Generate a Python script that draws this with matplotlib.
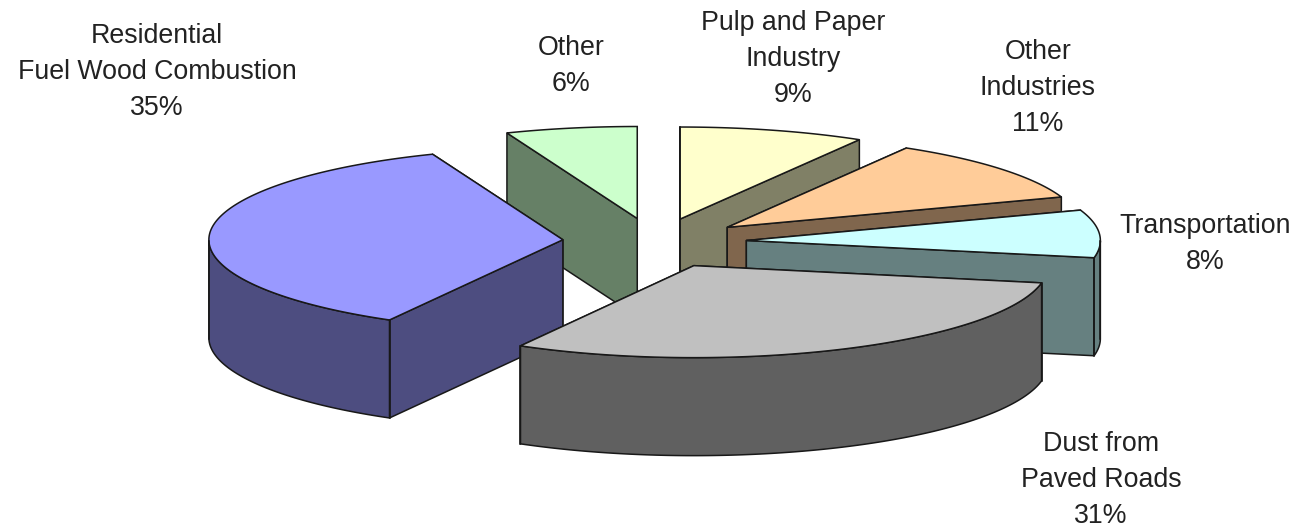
import numpy as np
import matplotlib
matplotlib.use("Agg")
import matplotlib.pyplot as plt

plt.rcParams['font.family'] = ['Liberation Sans', 'DejaVu Sans']

# clockwise from twelve o'clock
categories = ["Pulp and Paper\nIndustry", "Other\nIndustries", "Transportation",
              "Dust from\nPaved Roads", "Residential\nFuel Wood Combustion", "Other"]
values = [9, 11, 8, 31, 35, 6]
top_colors = ["#FFFFCC", "#FFCC99", "#CCFFFF", "#C0C0C0", "#9999FF", "#CCFFCC"]
wall_colors = ["#808066", "#80664D", "#668080", "#606060", "#4D4D80", "#668066"]
explode = [0.26, 0.26, 0.26, 0.28, 0.26, 0.26]

# pie geometry, in pixels
CX, CY = 654.5, 242
RX, RY = 354, 92
DEPTH = 98
# the old 3D view squeezes two of the quadrants a bit
WARP_Q1 = np.radians(2.2)
WARP_Q3 = np.radians(3.4)
EDGE = "#181818"

# painter order, back slices first
draw_order = [5, 0, 1, 2, 4, 3]
label_pos = [(793, 59), (1038, 88), (1205, 244), (1101, 480), (157, 72), (571, 66)]


def warp(a):
    k = np.where(a < np.pi, WARP_Q1, WARP_Q3)
    return a - k * np.maximum(np.sin(2 * a), 0)


def point(a, ox, oy, r=1.0):
    return ox + r * RX * np.sin(a), oy - r * RY * np.cos(a)


fig = plt.figure(figsize=(12.94, 5.28), dpi=100)
ax = fig.add_axes([0, 0, 1, 1])
ax.set_xlim(0, 1294)
ax.set_ylim(528, 0)
ax.axis('off')

edges = np.cumsum([0] + values) / sum(values) * 2 * np.pi

for i in draw_order:
    a0, a1 = edges[i], edges[i + 1]
    mid = (a0 + a1) / 2
    ox, oy = point(mid, CX, CY, explode[i])
    arc = np.linspace(a0, a1, 120)
    tx, ty = point(warp(arc), ox, oy)

    # the two cut faces, the one further back goes first
    for a in sorted((a0, a1), key=lambda v: -np.cos(v)):
        ex, ey = point(warp(a), ox, oy)
        ax.fill([ox, ex, ex, ox], [oy, ey, ey + DEPTH, oy + DEPTH],
                fc=wall_colors[i], ec=EDGE, lw=1.1, joinstyle='round')

    # outer wall, only the part facing the viewer
    front = arc[(arc >= np.pi / 2) & (arc <= 3 * np.pi / 2)]
    if len(front) > 1:
        fx, fy = point(warp(front), ox, oy)
        ax.fill(np.r_[fx, fx[::-1]], np.r_[fy, fy[::-1] + DEPTH],
                fc=wall_colors[i], ec=EDGE, lw=1.1)
        ax.plot([fx[0], fx[0]], [fy[0], fy[0] + DEPTH], color=EDGE, lw=1.1)
        ax.plot([fx[-1], fx[-1]], [fy[-1], fy[-1] + DEPTH], color=EDGE, lw=1.1)

    ax.fill(np.r_[ox, tx], np.r_[oy, ty], fc=top_colors[i], ec=EDGE, lw=1.1)

for name, val, (lx, ly) in zip(categories, values, label_pos):
    ax.text(lx, ly, f"{name}\n{val}%", ha='center', va='center',
            fontsize=19.3, color="#222222", linespacing=1.5)

fig.savefig("out.png", dpi=100)
